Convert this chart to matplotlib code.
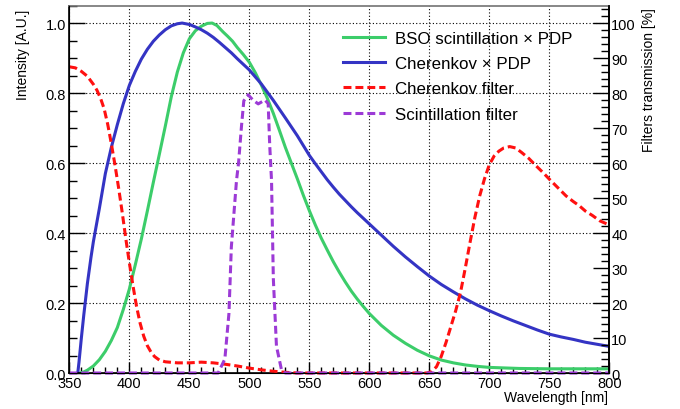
import numpy as np
import matplotlib.pyplot as plt
from matplotlib.ticker import MultipleLocator, FormatStrFormatter

plt.rcParams['font.family'] = ['Liberation Sans', 'DejaVu Sans']

# BSO scintillation spectrum x PDP (normalised)
wl_bso = [359, 362, 365, 370, 375, 380, 385, 390, 395, 400, 405, 410, 415, 420,
          425, 430, 435, 440, 445, 450, 455, 460, 465, 469, 473, 478, 482, 486,
          490, 495, 500, 505, 510, 515, 520, 525, 530, 535, 540, 545, 550, 555,
          560, 565, 570, 575, 580, 585, 590, 595, 600, 610, 620, 630, 640, 650,
          660, 670, 680, 690, 700, 725, 750, 800]
bso = [0.0, 0.003, 0.008, 0.02, 0.038, 0.062, 0.093, 0.13, 0.182, 0.24, 0.31,
       0.383, 0.463, 0.545, 0.625, 0.706, 0.79, 0.86, 0.915, 0.955, 0.978,
       0.991, 0.999, 1.0, 0.993, 0.975, 0.962, 0.948, 0.93, 0.91, 0.888, 0.858,
       0.823, 0.785, 0.742, 0.694, 0.645, 0.6, 0.555, 0.508, 0.464, 0.423,
       0.385, 0.351, 0.318, 0.288, 0.26, 0.234, 0.211, 0.19, 0.17, 0.136,
       0.108, 0.085, 0.065, 0.049, 0.037, 0.029, 0.023, 0.019, 0.016, 0.013,
       0.012, 0.012]

# Cherenkov spectrum x PDP (normalised)
wl_cher = [357, 358, 360, 362, 365, 368, 370, 375, 380, 385, 390, 395, 400,
           405, 410, 415, 420, 425, 430, 435, 440, 444, 450, 455, 460, 465,
           470, 475, 480, 485, 490, 495, 500, 510, 520, 530, 540, 545, 550,
           555, 560, 565, 570, 575, 580, 585, 590, 595, 600, 610, 620, 630,
           640, 650, 660, 670, 680, 690, 700, 710, 720, 730, 740, 750, 760,
           770, 780, 790, 800]
cher = [0.0, 0.03, 0.1, 0.165, 0.255, 0.33, 0.375, 0.47, 0.57, 0.645, 0.71,
        0.77, 0.822, 0.862, 0.897, 0.925, 0.948, 0.966, 0.981, 0.992, 0.998,
        1.0, 0.996, 0.989, 0.981, 0.971, 0.959, 0.945, 0.93, 0.915, 0.898,
        0.882, 0.866, 0.826, 0.779, 0.729, 0.678, 0.65, 0.622, 0.598, 0.575,
        0.552, 0.531, 0.511, 0.493, 0.475, 0.458, 0.442, 0.426, 0.394, 0.362,
        0.332, 0.304, 0.277, 0.253, 0.232, 0.212, 0.194, 0.178, 0.163, 0.149,
        0.136, 0.123, 0.111, 0.103, 0.096, 0.088, 0.082, 0.076]

# Cherenkov filter transmission [%]
wl_cfilt = [350, 355, 360, 365, 370, 373, 376, 379, 382, 385, 388, 391, 394,
            397, 400, 403, 406, 409, 412, 415, 418, 421, 425, 430, 440, 450,
            460, 470, 480, 490, 500, 510, 520, 530, 540, 648, 652, 656, 660,
            664, 668, 672, 676, 680, 684, 688, 692, 696, 700, 704, 708, 712,
            717, 722, 727, 733, 739, 745, 750, 757, 764, 770, 775, 780, 786,
            792, 800]
cfilt = [87.5, 87.2, 86.2, 84.8, 82.5, 80.8, 78.5, 75.5, 71, 65.5, 59.5, 53,
         46, 38.5, 31.5, 25, 19, 14.2, 10.5, 7.8, 6, 4.7, 3.7, 3.2, 2.9, 2.9,
         3.1, 2.9, 2.5, 2.0, 1.4, 0.9, 0.5, 0.2, 0, 0, 0.4, 1.8, 4.8, 8.8,
         13.3, 17.8, 23, 30, 37.4, 44.5, 50.6, 55.5, 59.5, 62, 63.4, 64.3,
         64.7, 64.3, 63, 61.3, 59.2, 57.2, 55.4, 53, 50.6, 49, 47.8, 46.3, 45,
         43.5, 42.3]

# Scintillation filter transmission [%]
wl_sfilt = [350, 474, 479.6, 483, 485, 489.3, 491, 493.5, 495.4, 499, 503,
            507.4, 513, 515.7, 517, 518.5, 520, 522.6, 526.8, 530, 800]
sfilt = [0, 0, 4, 17, 36, 55, 60, 70.7, 77.8, 79.5, 78, 76.9, 78, 77, 65, 55,
         27, 7.7, 0.9, 0, 0]

c_bso = '#3ccd6a'
c_cher = '#3434c4'
c_cfilt = '#ff1010'
c_sfilt = '#9c3ad6'
dash = (0, (2.6, 1.3))

fig = plt.figure(figsize=(6.8, 4.1), dpi=100)
ax = fig.add_axes([0.102, 0.0878, 0.794, 0.8962])

l1, = ax.plot(wl_bso, bso, color=c_bso, lw=2.2, label='BSO scintillation \u00d7 PDP')
l2, = ax.plot(wl_cher, cher, color=c_cher, lw=2.2, label='Cherenkov \u00d7 PDP')

ax.set_xlim(350, 800)
ax.set_ylim(0, 1.05)
ax.xaxis.set_major_locator(MultipleLocator(50))
ax.xaxis.set_minor_locator(MultipleLocator(10))
ax.yaxis.set_major_locator(MultipleLocator(0.2))
ax.yaxis.set_minor_locator(MultipleLocator(0.05))
ax.yaxis.set_major_formatter(FormatStrFormatter('%.1f'))
ax.grid(True, which='major', color='black', lw=0.8, ls=(0, (1, 2)))
ax.tick_params(axis='x', which='major', direction='in', length=8, width=1,
               labelsize=10.5, pad=2.5, top=False)
ax.tick_params(axis='x', which='minor', direction='in', length=4, width=1, top=False)
ax.tick_params(axis='y', which='major', direction='in', length=11.5, width=1,
               labelsize=10.5, pad=2.5, right=False)
ax.tick_params(axis='y', which='minor', direction='in', length=5.8, width=1, right=False)
for s in ['left', 'bottom', 'right']:
    ax.spines[s].set_linewidth(1.2)
ax.spines['top'].set_color('0.45')
ax.spines['top'].set_linewidth(1.2)

ax2 = ax.twinx()
l3, = ax2.plot(wl_cfilt, cfilt, color=c_cfilt, lw=2.2, ls=dash,
               clip_on=False, label='Cherenkov filter')
l4, = ax2.plot(wl_sfilt, sfilt, color=c_sfilt, lw=2.2, ls=dash,
               clip_on=False, label='Scintillation filter')
ax2.set_ylim(0, 105)
ax2.yaxis.set_major_locator(MultipleLocator(10))
ax2.yaxis.set_minor_locator(MultipleLocator(2))
ax2.tick_params(axis='y', which='major', direction='in', length=11.5, width=1,
                labelsize=10.5, pad=1.5)
ax2.tick_params(axis='y', which='minor', direction='in', length=5.8, width=1)
ax2.spines['right'].set_linewidth(1.2)
ax2.spines['top'].set_visible(False)

ax2.legend(handles=[l1, l2, l3, l4], loc='upper left',
           bbox_to_anchor=(343 / 680, 1 - 32 / 410),
           bbox_transform=fig.transFigure, frameon=False, fontsize=12.2,
           handlelength=2.48, handletextpad=0.59, labelspacing=0.6,
           borderpad=0, borderaxespad=0)

fig.text(23 / 680, 1 - 10 / 410, 'Intensity [A.U.]', rotation=90,
         ha='center', va='top', fontsize=10)
fig.text(649 / 680, 1 - 8 / 410, 'Filters transmission [%]', rotation=90,
         ha='center', va='top', fontsize=10)
fig.text(608 / 680, 1 - 398 / 410, 'Wavelength [nm]', ha='right',
         va='center', fontsize=10)

fig.savefig('out.png', dpi=100)
